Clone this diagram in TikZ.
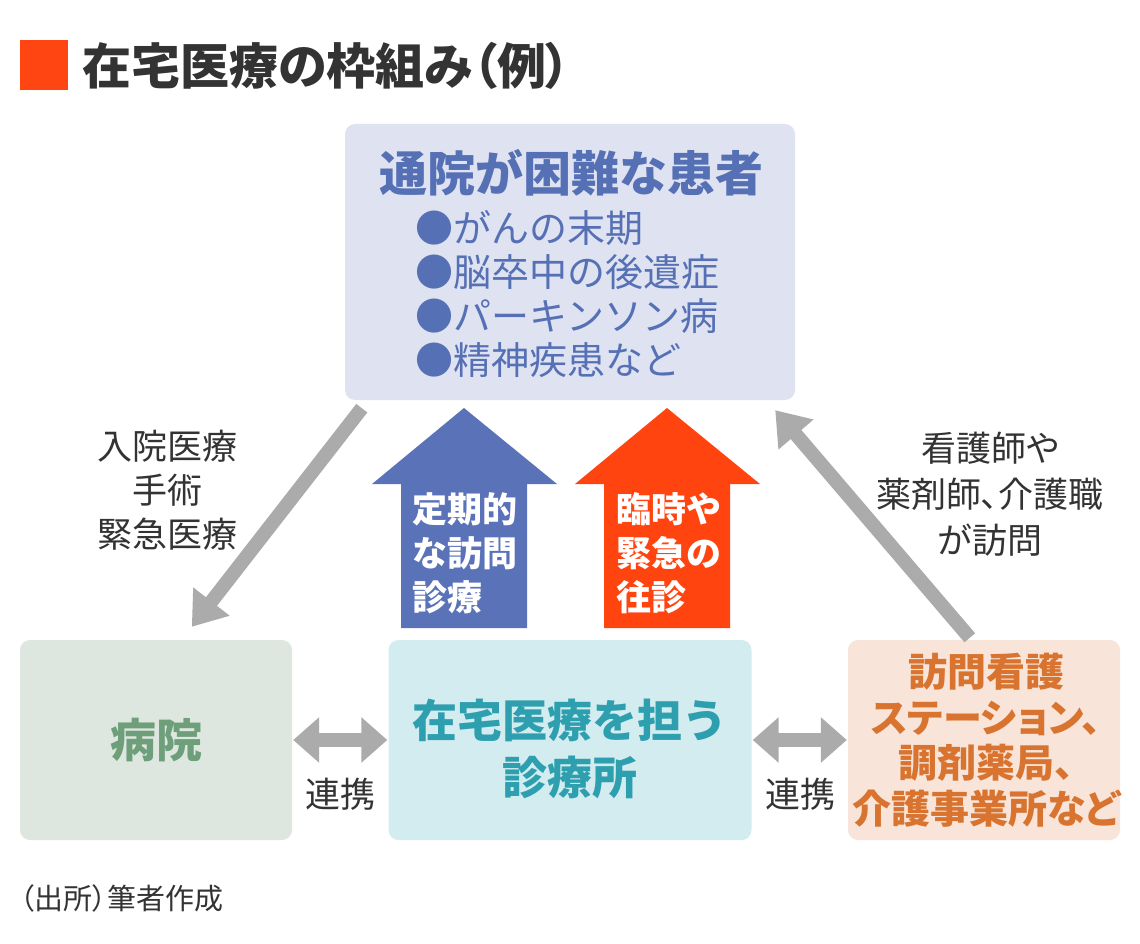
\documentclass[tikz,border=0pt]{standalone}
\usepackage{fontspec}
\setmainfont{Noto Sans CJK JP}
\newfontfamily\jpprop{Noto Sans CJK JP}[RawFeature=+palt]
\usepackage{tikz}
\usetikzlibrary{arrows.meta,calc,positioning}
\definecolor{titlered}{HTML}{FF4511}
\definecolor{darktext}{HTML}{333333}
\definecolor{patientfill}{HTML}{DFE3F1}
\definecolor{patientblue}{HTML}{5670B5}
\definecolor{visitblue}{HTML}{5A72B8}
\definecolor{visitred}{HTML}{FF4410}
\definecolor{linkgray}{HTML}{ABABAB}
\definecolor{hospfill}{HTML}{DDE7DF}
\definecolor{hospgreen}{HTML}{6F9F7A}
\definecolor{clinicfill}{HTML}{D3ECF0}
\definecolor{clinicteal}{HTML}{2E9FAE}
\definecolor{carefill}{HTML}{F8E4D8}
\definecolor{careorange}{HTML}{D8742F}
\newcommand{\fsz}[2]{\fontsize{#1}{#2}\selectfont}
\tikzset{
  box/.style={rounded corners=10pt,inner sep=0pt},
  txt/.style={inner sep=0pt},
  grayarrow/.style={draw=linkgray,line width=14pt,-{Triangle[length=32pt,width=44pt]}},
  linkarrow/.style={draw=linkgray,line width=14pt,{Triangle[length=26pt,width=44pt]}-{Triangle[length=26pt,width=44pt]},shorten <=1pt,shorten >=1pt}
}

\begin{document}
\begin{tikzpicture}[x=1pt,y=-1pt]
    \fill[white] (0,0) rectangle (1140,944);
    \useasboundingbox (0,0) rectangle (1140,944);
    \fill[titlered] (20,40) rectangle (68,90);
    \node[txt,anchor=west,text=darktext,font=\jpprop\bfseries\fsz{49}{56}] (title) at (82,66) {在宅医療の枠組み（例）};

    \node[box,fill=patientfill,minimum width=450pt,minimum height=276pt] (patient) at (570,262) {};
    \node[txt,text=patientblue,font=\bfseries\fsz{48}{52}] (patienthead) at (571,173) {通院が困難な患者};
    \foreach \entry [count=\i] in {がんの末期,脳卒中の後遺症,パーキンソン病,精神疾患など}
    {
      \node[txt,anchor=west,text=patientblue,font=\fsz{38}{44}] (item\i) at (415,184+44*\i) {●\entry};
    }

    \fill[visitblue] (401,628) -- (401,484) -- (372,484) -- (464,408) -- (557,484) -- (527,484) -- (527,628) -- cycle;
    \fill[visitred] (604,628) -- (604,484) -- (575,484) -- (667,408) -- (760,484) -- (730,484) -- (730,628) -- cycle;
    \node[txt,anchor=west,align=left,text=white,font=\bfseries\fsz{35}{44}] (regular) at (412,553) {定期的\\な訪問\\診療};
    \node[txt,anchor=west,align=left,text=white,font=\bfseries\fsz{35}{44}] (urgent) at (616,553) {臨時や\\緊急の\\往診};

    \node[box,fill=hospfill,minimum width=272pt,minimum height=200pt] (hospital) at (156,740) {};
    \node[box,fill=clinicfill,minimum width=363pt,minimum height=200pt] (clinic) at (570,740) {};
    \node[box,fill=carefill,minimum width=272pt,minimum height=200pt] (care) at (984,740) {};
    \node[txt,text=hospgreen,font=\bfseries\fsz{46}{50}] (hosplabel) at (156,740) {病院};
    \node[txt,align=center,text=clinicteal,font=\bfseries\fsz{45}{57}] (cliniclabel) at (570,749) {在宅医療を担う\\診療所};
    \node[txt,align=center,text=careorange,font=\jpprop\bfseries\fsz{39}{45.5}] (carelabel) at (986,740) {訪問看護\\ステーション、\\調剤薬局、\\介護事業所など};

    \node[txt,align=center,text=darktext,font=\fsz{35}{44}] (inpatient) at (167,490) {入院医療\\手術\\緊急医療};
    \node[txt,align=center,text=darktext,font=\jpprop\fsz{35}{46}] (homevisit) at (990,494) {看護師や\\薬剤師、介護職\\が訪問};
    \node[txt,text=darktext,font=\fsz{35}{40}] (linkleft) at (340,794) {連携};
    \node[txt,text=darktext,font=\fsz{35}{40}] (linkright) at (800,794) {連携};
    \node[txt,anchor=west,text=darktext,font=\jpprop\fsz{29}{33}] (source) at (20,898) {（出所）筆者作成};

    \draw[grayarrow] ($(patient.south west)+(17,8)$) -- ($(hospital.north west)+(172,-13)$);
    \draw[grayarrow] ($(care.north west)+(122,-2)$) -- ($(patient.south east)+(-20,10)$);
    \draw[linkarrow] (hospital) -- (clinic);
    \draw[linkarrow] (clinic) -- (care);
  \end{tikzpicture}
\end{document}
